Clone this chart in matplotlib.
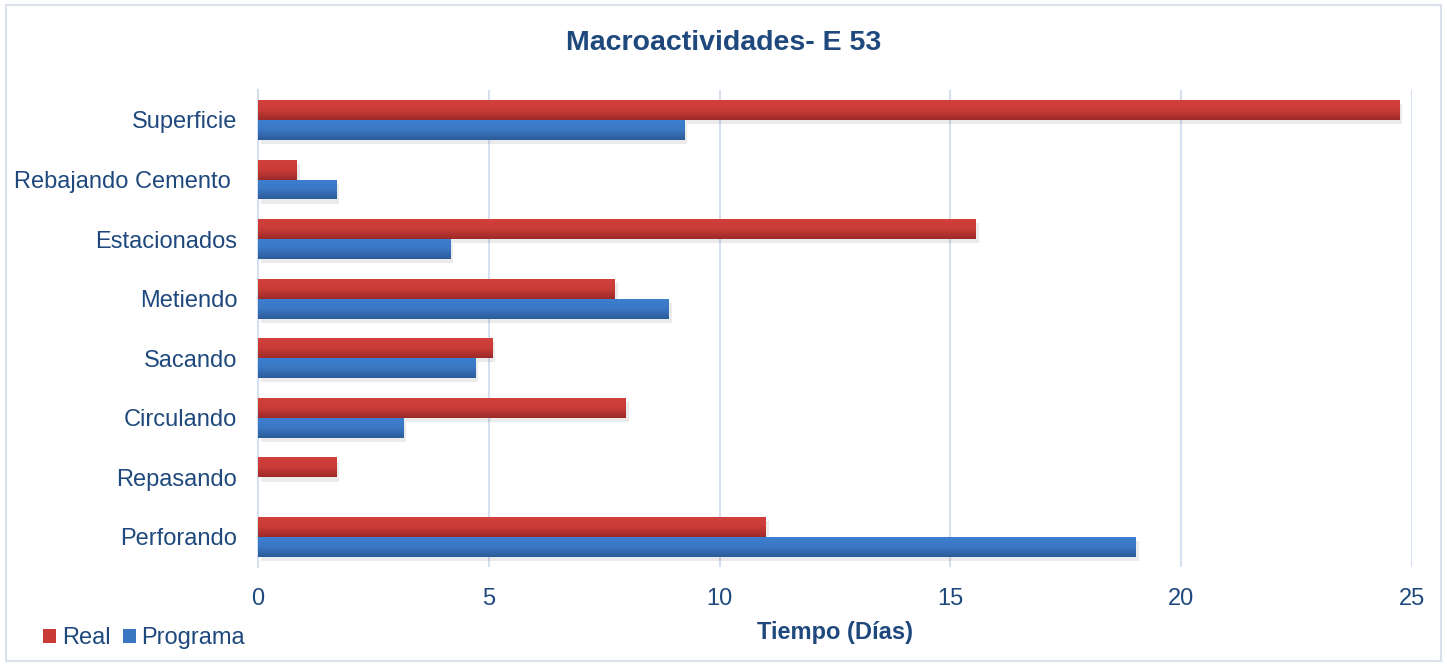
import numpy as np
import matplotlib.pyplot as plt
from matplotlib.colors import LinearSegmentedColormap
from matplotlib.patches import Rectangle, Patch

plt.rcParams["font.family"] = ["Liberation Sans", "DejaVu Sans"]

categories = ["Perforando", "Repasando", "Circulando", "Sacando",
              "Metiendo", "Estacionados", "Rebajando Cemento ", "Superficie"]
real = [11.0, 1.7, 7.97, 5.08, 7.73, 15.55, 0.84, 24.72]
programa = [19.02, 0.0, 3.15, 4.71, 8.9, 4.16, 1.69, 9.23]
xticks = [0, 5, 10, 15, 20, 25]

TEXT = "#1f497d"
GRID = "#d5e0f0"

red_cmap = LinearSegmentedColormap.from_list("r", ["#d2403b", "#c93b37", "#9c2a28"])
blue_cmap = LinearSegmentedColormap.from_list("b", ["#3d7fd0", "#3a76c2", "#2c5b98"])

fig = plt.figure(figsize=(14.47, 6.66), dpi=100)
ax = fig.add_axes([0.1783, 0.149, 0.7975, 0.7156])

y = np.arange(len(categories))
h = 0.335
bars_r = ax.barh(y + h / 2, real, height=h, color="#c93b37", zorder=3)
bars_p = ax.barh(y - h / 2, programa, height=h, color="#3a76c2", zorder=3)

ax.set_xlim(0, 25)
ax.set_ylim(-0.5, len(categories) - 0.5)

# gradient fill + soft shadow on every bar
grad = np.linspace(0, 1, 64).reshape(-1, 1)
for bars, cmap in ((bars_r, red_cmap), (bars_p, blue_cmap)):
    for b in bars:
        x0, y0 = b.get_x(), b.get_y()
        w, hh = b.get_width(), b.get_height()
        if w <= 0:
            continue
        b.set_visible(False)
        ax.add_patch(Rectangle((x0 + 0.06, y0 - 0.07), w, hh, color="#000000",
                               alpha=0.08, zorder=2, lw=0))
        im = ax.imshow(grad, cmap=cmap, aspect="auto",
                       extent=(x0, x0 + w, y0, y0 + hh), origin="upper", zorder=3)
        im.set_clip_path(Rectangle((x0, y0), w, hh, transform=ax.transData))

ax.set_xlim(0, 25)
ax.set_ylim(-0.5, len(categories) - 0.5)

ax.set_xticks(xticks)
ax.set_xticklabels([str(t) for t in xticks])
ax.set_yticks(y)
ax.set_yticklabels(categories)
ax.tick_params(axis="both", length=0, labelsize=17, colors=TEXT)
ax.tick_params(axis="x", pad=15)
ax.tick_params(axis="y", pad=15)
ax.grid(axis="x", color=GRID, lw=1.5, zorder=0)
ax.set_axisbelow(True)
for s in ("top", "right", "bottom"):
    ax.spines[s].set_visible(False)
ax.spines["left"].set_color(GRID)
ax.spines["left"].set_linewidth(1.5)

ax.set_xlabel("Tiempo (Días)", fontsize=17, fontweight="bold", color=TEXT, labelpad=8)
fig.text(0.5, 0.935, "Macroactividades- E 53", ha="center", va="center",
         fontsize=20.5, fontweight="bold", color=TEXT)

handles = [Patch(facecolor="#c93b37", label="Real"),
           Patch(facecolor="#3a76c2", label="Programa")]
fig.legend(handles=handles, loc="center left", bbox_to_anchor=(0.030, 0.042),
           ncol=2, frameon=False, fontsize=17, labelcolor=TEXT,
           handlelength=0.55, handleheight=0.55, handletextpad=0.25,
           columnspacing=0.5, borderpad=0, borderaxespad=0)

fig.add_artist(Rectangle((0.004, 0.007), 0.992, 0.986, transform=fig.transFigure,
                         fill=False, edgecolor="#d9e1ec", lw=1.5))

fig.savefig("out.png", dpi=100)
